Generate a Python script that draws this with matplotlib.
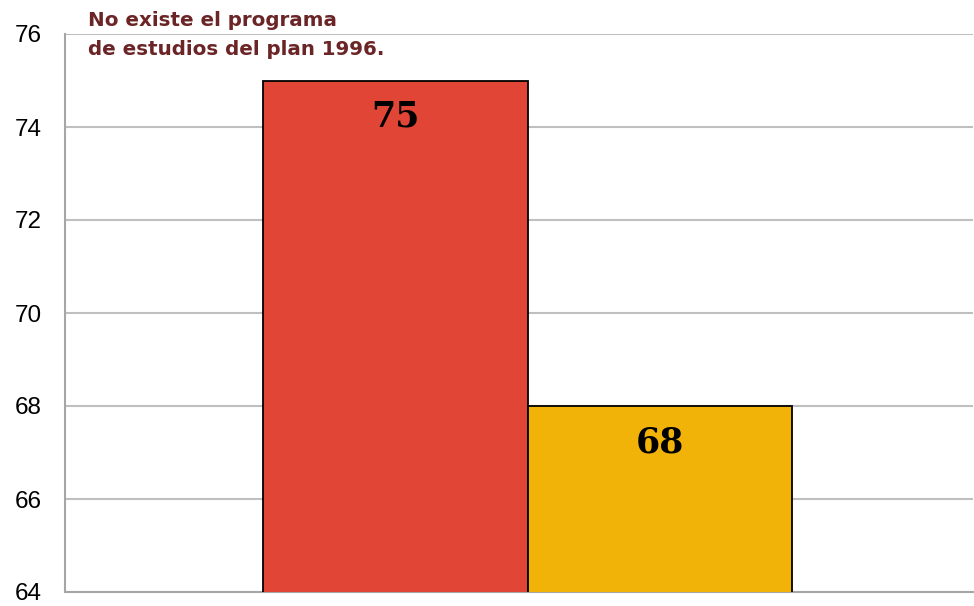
import matplotlib
matplotlib.use("Agg")
import matplotlib.pyplot as plt

categories = ["A", "B"]
values = [75, 68]
colors = ["#E04535", "#F2B308"]
yticks = [64, 66, 68, 70, 72, 74, 76]
note = "No existe el programa\nde estudios del plan 1996."

fig = plt.figure(figsize=(9.74, 6.06), dpi=100)
ax = fig.add_axes([65/974, 1-592/606, 908/974, (592-34)/606])

x = list(range(len(values)))
bars = ax.bar(x, values, width=1.0, color=colors, edgecolor="black", linewidth=1.3, zorder=3)
for xi, v in zip(x, values):
    ax.annotate(f"{v}", xy=(xi, v), xytext=(0, -26), textcoords="offset points",
                ha="center", va="center", fontsize=25, fontweight="bold",
                family="DejaVu Serif", color="black", zorder=4)

ax.set_ylim(64, 76)
ax.set_xlim(-0.5 - 198/264.5, 1.5 + 181/264.5)
ax.set_yticks(yticks)
ax.set_yticklabels([str(t) for t in yticks], fontsize=17.5, family="Liberation Sans")
ax.set_xticks([])
ax.tick_params(axis="y", length=0, pad=17)
ax.grid(axis="y", color="#BFBFBF", linewidth=1.5, zorder=0)
ax.set_axisbelow(True)
for s in ["top", "right"]:
    ax.spines[s].set_visible(False)
for s in ["left", "bottom"]:
    ax.spines[s].set_color("#A6A6A6")
    ax.spines[s].set_linewidth(1.5)

fig.text(88/974, 1-35/606, note, ha="left", va="center", fontsize=14.3,
         fontweight="bold", color="#6B2526", family="DejaVu Sans", linespacing=1.65)

fig.savefig("out.png", dpi=100)
